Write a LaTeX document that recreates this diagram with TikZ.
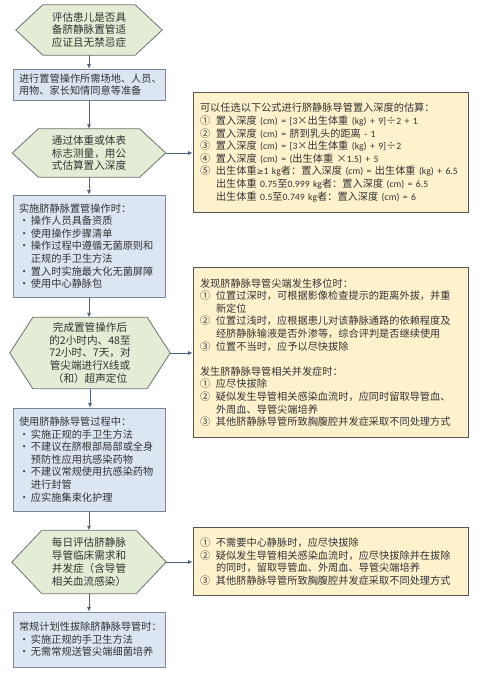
\documentclass[tikz,border=0pt]{standalone}
\usepackage{fontspec}
\setmainfont{Noto Sans CJK SC}
\newfontfamily\lt[Scale=0.95]{Carlito}
\newfontfamily\djs[Scale=0.8]{DejaVu Sans}
\usetikzlibrary{arrows.meta,backgrounds}
\definecolor{hexfill}{HTML}{E3EDD6}
\definecolor{hexline}{HTML}{707070}
\definecolor{boxfill}{HTML}{DCE6F2}
\definecolor{boxline}{HTML}{7A8699}
\definecolor{yelfill}{HTML}{FEF2CD}
\definecolor{yelline}{HTML}{555555}
\definecolor{arrowc}{HTML}{4A6288}
\definecolor{txt}{HTML}{333333}
\newcommand\fs{\fontsize{10.2}{12.6}\selectfont}
\newcommand\fsh{\fontsize{10.6}{12.9}\selectfont}
\newcommand\la[1]{{\lt #1}}
\newcommand\nm[1]{\makebox[16pt][l]{#1}}
\newcommand\ind{\hspace*{16pt}}
\newcommand\bl{\makebox[12pt][l]{•}}
\newcommand\bi{\hspace*{12pt}}
\newcommand\hexa[2]{%
  \path[draw=hexline, fill=hexfill, line width=0.8pt]
    (#1.west) -- ([xshift=#2]#1.north west) -- ([xshift=-#2]#1.north east)
    -- (#1.east) -- ([xshift=-#2]#1.south east) -- ([xshift=#2]#1.south west) -- cycle;}
\tikzset{
  box/.style={draw=boxline, fill=boxfill, line width=0.8pt, inner xsep=6pt, inner ysep=2pt,
    align=left, font=\fs, text=txt, minimum width=152pt, text width=140pt},
  ybox/.style={draw=yelline, fill=yelfill, line width=0.8pt, inner xsep=7pt, inner ysep=2pt,
    align=left, font=\fs, text=txt, minimum width=275pt, text width=261pt},
  hex/.style={inner sep=0pt, align=center, font=\fsh, text=txt},
  arr/.style={draw=arrowc, line width=0.7pt, -{Latex[length=4.5pt,width=4pt]}}
}
\begin{document}
\begin{tikzpicture}[x=1pt,y=-1pt]
\useasboundingbox (0,0) rectangle (480,674);

% hexagon nodes
\node[hex, minimum width=146pt, minimum height=50pt] (h1) at (89,30)
  {评估患儿是否具\\备脐静脉置管适\\应证且无禁忌症};
\node[hex, minimum width=153pt, minimum height=48pt] (h2) at (89,153)
  {通过体重或体表\\标志测量，用公\\式估算置入深度};
\node[hex, minimum width=160pt, minimum height=71pt] (h3) at (90,353)
  {完成置管操作后\\的2小时内、48至\\72小时、7天，对\\管尖端进行X线或\\（和）超声定位};
\node[hex, minimum width=154pt, minimum height=63pt] (h4) at (89,562)
  {每日评估脐静脉\\导管临床需求和\\并发症（含导管\\相关血流感染）};
\begin{scope}[on background layer]
  \fill[white] (0,0) rectangle (480,674);
  \hexa{h1}{27pt}
  \hexa{h2}{26pt}
  \hexa{h3}{23pt}
  \hexa{h4}{30pt}
\end{scope}

% blue boxes
\node[box, minimum height=31pt] (b2) at (89,84.5)
  {进行置管操作所需场地、人员、\\用物、家长知情同意等准备};
\node[box, minimum height=102pt] (b3) at (89,246)
  {实施脐静脉置管操作时：\\
   \bl 操作人员具备资质\\
   \bl 使用操作步骤清单\\
   \bl 操作过程中遵循无菌原则和\\
   \bi 正规的手卫生方法\\
   \bl 置入时实施最大化无菌屏障\\
   \bl 使用中心静脉包};
\node[box, minimum height=103pt] (b4) at (89,459.5)
  {使用脐静脉导管过程中：\\
   \bl 实施正规的手卫生方法\\
   \bl 不建议在脐根部局部或全身\\
   \bi 预防性应用抗感染药物\\
   \bl 不建议常规使用抗感染药物\\
   \bi 进行封管\\
   \bl 应实施集束化护理};
\node[box, minimum height=55pt] (b5) at (89,639.5)
  {常规计划性拔除脐静脉导管时：\\
   \bl 实施正规的手卫生方法\\
   \bl 无需常规送管尖端细菌培养};

% yellow boxes
\node[ybox, minimum height=120pt] (y1) at (330.5,152.5)
  {可以任选以下公式进行脐静脉导管置入深度的估算：\\
   \mbox{\nm{①}置入深度 \la{(cm) = [3}×出生体重 \la{(kg) + 9]}÷\la{2 + 1}}\\
   \mbox{\nm{②}置入深度 \la{(cm) =} 脐到乳头的距离 \la{- 1}}\\
   \mbox{\nm{③}置入深度 \la{(cm) = [3}×出生体重 \la{(kg) + 9]}÷\la{2}}\\
   \mbox{\nm{④}置入深度 \la{(cm) = (}出生体重 ×\la{1.5) + 5}}\\
   \mbox{\nm{⑤}出生体重{\djs ≥}\la{1 kg}者：置入深度 \la{(cm) =} 出生体重 \la{(kg) + 6.5}}\\
   \mbox{\ind 出生体重 \la{0.75}至\la{0.999 kg}者：置入深度 \la{(cm) = 6.5}}\\
   \mbox{\ind 出生体重 \la{0.5}至\la{0.749 kg}者：置入深度 \la{(cm) = 6}}};
\node[ybox, minimum height=170pt] (y2) at (330.5,352.5)
  {发现脐静脉导管尖端发生移位时：\\
   \nm{①}位置过深时，可根据影像检查提示的距离外拔，并重\\
   \ind 新定位\\
   \nm{②}位置过浅时，应根据患儿对该静脉通路的依赖程度及\\
   \ind 经脐静脉输液是否外渗等，综合评判是否继续使用\\
   \nm{③}位置不当时，应予以尽快拔除\\[12.6pt]
   发生脐静脉导管相关并发症时：\\
   \nm{①}应尽快拔除\\
   \nm{②}疑似发生导管相关感染血流时，应同时留取导管血、\\
   \ind 外周血、导管尖端培养\\
   \nm{③}其他脐静脉导管所致胸腹腔并发症采取不同处理方式};
\node[ybox, minimum height=68pt] (y3) at (330.5,561.5)
  {\nm{①}不需要中心静脉时，应尽快拔除\\
   \nm{②}疑似发生导管相关感染血流时，应尽快拔除并在拔除\\
   \ind 的同时，留取导管血、外周血、导管尖端培养\\
   \nm{③}其他脐静脉导管所致胸腹腔并发症采取不同处理方式};

% connectors
\draw[arr] (h1.south) -- (b2.north);
\draw[arr] (b2.south) -- (h2.north);
\draw[arr] (h2.south) -- (b3.north);
\draw[arr] (b3.south) -- (b3.south |- h3.north);
\draw[arr] (h3.south) -- (h3.south |- b4.north);
\draw[arr] (b4.south) -- (h4.north);
\draw[arr] (h4.south) -- (b5.north);
\draw[arr] (h2.east) -- (h2.east -| y1.west);
\draw[arr] (h3.east) -- (h3.east -| y2.west);
\draw[arr] (h4.east) -- (h4.east -| y3.west);
\end{tikzpicture}
\end{document}
